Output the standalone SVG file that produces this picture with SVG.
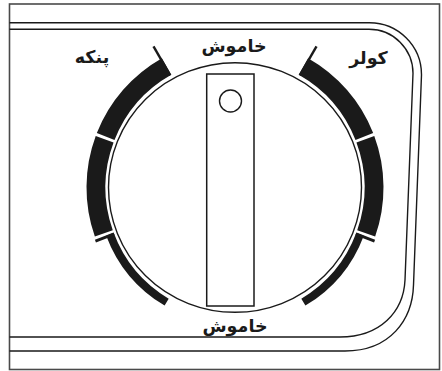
<svg xmlns="http://www.w3.org/2000/svg" width="442" height="371" viewBox="0 0 442 371">
<style>
.frame{fill:none;stroke:#4a4a4a;stroke-width:1.6}
.ln{fill:none;stroke:#1a1a1a;stroke-width:1.4}
.thick{fill:none;stroke:#1a1a1a;stroke-width:19}
.thin{fill:none;stroke:#1a1a1a;stroke-width:8}
.tick{stroke:#1a1a1a;stroke-width:2.4}
.tickw{stroke:#1a1a1a;stroke-width:3}
.lbl{font-family:"DejaVu Sans",sans-serif;font-weight:bold;font-size:17.5px;fill:#1a1a1a;text-anchor:middle}
</style>
<rect class="frame" x="9.5" y="4" width="430" height="365.5"/>
<g id="panel">
<path class="ln" d="M 9.5 22.7 H 369 A 52 52 0 0 1 421.5 74.7 L 413.5 285 C 412.5 320 390 351 345 351 H 9.5"/>
<path class="ln" d="M 9.5 29.3 H 369 A 44 44 0 0 1 413 73.3 L 405 280 C 403.5 312 380 337 340 337 H 9.5"/>
</g>
<g id="knob">
<ellipse class="ln" cx="235" cy="187.5" rx="126.5" ry="124.8"/>
<rect class="ln" x="206.7" y="74" width="47.3" height="232" style="stroke-width:1.5"/>
<circle class="ln" cx="230.5" cy="101" r="11"/>
</g>
<g id="scale-left">
<path class="thick" d="M 166.56 66.51 A 139 139 0 0 0 105.67 136.56"/>
<path class="thick" d="M 104.63 139.28 A 139 139 0 0 0 103.81 233.44"/>
<path class="thin" d="M 109.95 234.25 A 133.5 133.5 0 0 0 166.65 302.18"/>
<line class="tick" x1="170.25" y1="75.35" x2="153.5" y2="46.34"/>
<line class="tickw" x1="114.10" y1="233.91" x2="95.43" y2="241.08"/>
</g>
<g id="scale-right">
<path class="thick" d="M 303.44 66.51 A 139 139 0 0 1 364.33 136.56"/>
<path class="thick" d="M 365.37 139.28 A 139 139 0 0 1 366.19 233.44"/>
<path class="thin" d="M 360.05 234.25 A 133.5 133.5 0 0 1 303.35 302.18"/>
<line class="tick" x1="299.75" y1="75.35" x2="316.5" y2="46.34"/>
<line class="tickw" x1="355.90" y1="233.91" x2="374.57" y2="241.08"/>
</g>
<g id="label-off-top"><text class="lbl" x="234" y="51.5">خاموش</text></g>
<g id="label-fan"><text class="lbl" x="92" y="63">پنکه</text></g>
<g id="label-cooler"><text class="lbl" x="368.5" y="64">کولر</text></g>
<g id="label-off-bottom"><text class="lbl" x="235" y="331.5">خاموش</text></g>
</svg>
